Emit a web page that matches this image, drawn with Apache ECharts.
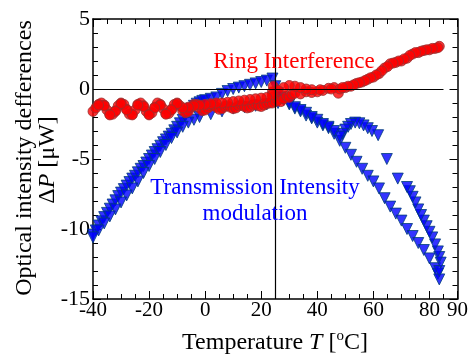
<!DOCTYPE html>
<html>
<head>
<meta charset="utf-8">
<script src="https://cdn.jsdelivr.net/npm/echarts@6/dist/echarts.min.js"></script>
<style>
  html, body { margin: 0; padding: 0; background: #fff; }
  #chart { width: 471px; height: 354px; }
</style>
</head>
<body>
<div id="chart"></div>
<script>
// axis ranges
const tempRange = [-40, 90]
const powerRange = [-15, 5]

// Ring Interference, heating branch
const ringHeatT = [-40, -39, -38, -37, -36, -35, -34, -33, -32, -31, -30, -29, -28, -27, -26, -25, -24, -23, -22, -21,
  -20, -19, -18, -17, -16, -15, -14, -13, -12, -11, -10, -9, -8, -7, -6, -5, -4, -3, -2, -1, 0,
  1, 2, 3, 4, 5, 6, 7, 8, 9, 10, 11, 12, 13, 14, 15, 16, 17, 18, 19, 20, 21, 22, 23, 24, 24, 24, 24.3,
  25, 26, 27, 28, 29, 30, 31, 32, 34, 36, 38, 40, 42, 44, 46, 47.5, 48, 50, 52, 54, 56, 58, 60, 62, 64, 66, 68,
  70, 72, 74, 76, 78, 80, 82, 83.5]
const ringHeatP = [-1.6, -1.35, -1.1, -1.0, -1.15, -1.5, -1.8, -1.8, -1.55, -1.2, -1.0, -1.1, -1.45, -1.8, -1.8, -1.5, -1.1, -1.0, -1.2, -1.6,
  -1.8, -1.7, -1.3, -1.0, -1.1, -1.4, -1.75, -1.75, -1.45, -1.1, -1.0, -1.2, -1.55, -1.7, -1.6, -1.3, -1.1, -1.1, -1.35, -1.55, -1.5,
  -1.35, -1.2, -1.15, -1.3, -1.45, -1.4, -1.25, -1.2, -1.3, -1.4, -1.35, -1.2, -1.15, -1.25, -1.35, -1.3, -1.15, -1.1, -1.2, -1.25, -1.15, -1.05, -1.0, -1.0, -0.6, -0.2, 0.2,
  -0.9, -0.8, -0.9, -0.7, -0.5, -0.6, -0.4, -0.3, -0.35, -0.2, -0.25, -0.2, -0.1, 0.05, 0.1, -0.3, 0.0, 0.1, 0.2, 0.4, 0.5, 0.7, 0.85, 1.1, 1.5, 1.8, 1.9,
  2.0, 2.2, 2.5, 2.6, 2.75, 2.8, 2.9, 3.05]

// Ring Interference, cooling branch
const ringCoolT = [83, 81, 79, 77, 75, 73, 71, 69, 67, 65, 63, 61, 59, 57, 55, 53, 51, 49, 45, 41,
  38, 36, 34, 32, 30, 28, 26, 24, 22, 20, 18, 16, 14, 12, 10, 8, 6, 4, 2, 0, -2, -4, -6, -8,
  -10, -12, -14, -16, -18, -20, -22, -24, -26, -28, -30, -32, -34, -36, -38]
const ringCoolP = [2.95, 2.9, 2.8, 2.7, 2.6, 2.4, 2.15, 2.0, 1.85, 1.6, 1.3, 1.0, 0.8, 0.6, 0.45, 0.3, 0.2, 0.1, 0.0, -0.05,
  -0.05, 0.0, 0.1, 0.2, 0.25, 0.1, -0.1, -0.4, -0.6, -0.65, -0.7, -0.75, -0.8, -0.85, -0.9, -0.95, -1.0, -1.0, -1.05, -1.1, -1.15, -1.2, -1.3, -1.35,
  -1.05, -1.5, -1.8, -1.15, -1.35, -1.85, -1.25, -1.15, -1.85, -1.5, -1.05, -1.6, -1.85, -1.2, -1.15]

// Transmission Intensity modulation, heating branch
const transHeatT = [-40, -39, -38, -37, -36, -35, -34, -33, -32, -31, -30, -29, -28, -27, -26, -25, -24, -23, -22, -21,
  -20, -19, -18, -17, -16, -15, -14, -13, -12, -11, -10, -9, -8, -7, -6, -5, -4, -3, -2, -1, 0,
  2, 4, 6, 8, 10, 12, 14, 16, 18, 20, 22, 24, 25, 26, 27, 28, 30, 32, 34, 36, 38, 40, 42, 44, 46, 48,
  50, 52, 54, 56, 58, 60, 62, 64, 66, 68, 70, 72, 74, 76, 78, 80, 82, 83, 83.5]
const transHeatP = [-10.4, -10.1, -9.75, -9.45, -9.15, -8.85, -8.55, -8.25, -7.95, -7.65, -7.4, -7.15, -6.9, -6.65, -6.4, -6.2, -5.95, -5.7, -5.5, -5.25,
  -5.0, -4.75, -4.5, -4.3, -4.05, -3.8, -3.6, -3.4, -3.2, -2.95, -2.7, -2.45, -2.2, -1.9, -1.65, -1.4, -1.2, -1.05, -0.95, -0.85, -0.8,
  -0.7, -0.6, -0.35, -0.15, 0.0, 0.1, 0.2, 0.3, 0.4, 0.5, 0.6, 0.75, 0.2, -0.3, -0.6, -0.8, -1.1, -1.4, -1.6, -1.9, -2.1, -2.4, -2.6, -2.8, -3.2, -3.7,
  -4.2, -4.7, -5.2, -5.7, -6.2, -6.6, -7.1, -7.8, -8.4, -8.9, -9.4, -10.0, -10.5, -11.0, -11.5, -12.1, -12.8, -13.2, -13.6]

// Transmission Intensity modulation, cooling branch
const transCoolT = [83.5, 84, 83.5, 83, 82, 81, 80, 79, 78, 77, 76, 75, 74, 73, 72, 68.7, 64.8, 61.7, 59.5, 58,
  56.5, 55, 53.5, 52, 51, 50, 49, 48, 46, 44, 42, 40, 38, 36, 34, 32, 30, 26, 22, 18, 14, 10, 6, 2,
  -2, -4, -6, -8, -10, -12, -14, -16, -18, -20, -22, -24, -26, -28, -30, -32, -34, -36, -38, -40]
const transCoolP = [-13.0, -12.4, -12.0, -11.6, -11.1, -10.6, -10.2, -9.8, -9.4, -9.0, -8.6, -8.1, -7.7, -7.3, -7.0, -6.4, -5.0, -3.3, -3.0, -2.8,
  -2.6, -2.45, -2.4, -2.5, -2.7, -2.9, -3.2, -3.4, -3.0, -2.7, -2.5, -2.2, -2.0, -1.7, -1.5, -1.3, -1.0, -1.0, -1.1, -1.2, -1.3, -1.4, -1.6, -1.8,
  -2.0, -2.2, -2.4, -2.7, -3.1, -3.5, -4.0, -4.5, -5.0, -5.5, -6.0, -6.6, -7.1, -7.6, -8.1, -8.6, -9.1, -9.6, -10.1, -10.6]

const zip = (xs, ys) => xs.map((x, i) => [x, ys[i]])

const serif = 'Liberation Serif'
const black = '#000'

const chart = echarts.init(document.getElementById('chart'))

// x axes: bottom/top, majors with labels and minors every 5
const xMajor = (pos, showLabel) => ({
  type: 'value', position: pos, min: tempRange[0], max: tempRange[1], interval: 20,
  axisLine: { show: true, onZero: false, lineStyle: { color: black, width: 1.5 } },
  axisTick: { show: true, inside: true, length: 8, lineStyle: { color: black, width: 1 } },
  axisLabel: { show: showLabel, color: black, fontFamily: serif, fontSize: 21, margin: 1, showMaxLabel: true, showMinLabel: true },
  splitLine: { show: false }
})
const xMinor = (pos) => ({
  type: 'value', position: pos, min: tempRange[0], max: tempRange[1], interval: 5,
  axisLine: { show: false, onZero: false },
  axisTick: { show: true, inside: true, length: 5, lineStyle: { color: black, width: 1 } },
  axisLabel: { show: false },
  splitLine: { show: false }
})
const yAxis = (pos, showLabel) => ({
  type: 'value', position: pos, min: powerRange[0], max: powerRange[1], interval: 5,
  axisLine: { show: true, onZero: false, lineStyle: { color: black, width: 1.5 } },
  axisTick: { show: true, inside: true, length: 8, lineStyle: { color: black, width: 1 } },
  minorTick: { show: true, splitNumber: 5, length: 5, lineStyle: { color: black, width: 1 } },
  axisLabel: { show: showLabel, color: black, fontFamily: serif, fontSize: 22, margin: 3 },
  splitLine: { show: false }
})

const option = {
  animation: false,
  backgroundColor: '#fff',
  grid: { left: 93, right: 11, top: 19, bottom: 55 },
  xAxis: [xMajor('bottom', true), xMinor('bottom'), xMajor('top', false), xMinor('top')],
  yAxis: [yAxis('left', true), yAxis('right', false)],
  series: [
    {
      name: 'Transmission heat', type: 'scatter', z: 2,
      symbol: 'triangle', symbolRotate: 180, symbolSize: 11,
      itemStyle: { color: '#0000ff', borderColor: '#003d7a', borderWidth: 1 },
      data: zip(transHeatT, transHeatP),
      markLine: {
        silent: true, symbol: 'none', label: { show: false },
        lineStyle: { color: black, width: 1.2, type: 'solid' },
        data: [
          [{ coord: [-40, 0] }, { coord: [85, 0] }],
          [{ coord: [25, powerRange[0]] }, { coord: [25, powerRange[1]] }]
        ]
      }
    },
    {
      name: 'Transmission cool', type: 'scatter', z: 2,
      symbol: 'triangle', symbolRotate: 180, symbolSize: 11,
      itemStyle: { color: '#0000ff', borderColor: '#003d7a', borderWidth: 1 },
      data: zip(transCoolT, transCoolP)
    },
    {
      name: 'Ring heat', type: 'scatter', z: 3,
      symbol: 'circle', symbolSize: 10,
      itemStyle: { color: '#ff0000', borderColor: '#993030', borderWidth: 1 },
      data: zip(ringHeatT, ringHeatP)
    },
    {
      name: 'Ring cool', type: 'scatter', z: 3,
      symbol: 'circle', symbolSize: 10,
      itemStyle: { color: '#ff0000', borderColor: '#993030', borderWidth: 1 },
      data: zip(ringCoolT, ringCoolP)
    }
  ],
  graphic: [
    {
      type: 'text', x: 294, y: 62, z: 10,
      style: { text: 'Ring Interference', fill: '#ff0000', font: '23px "Liberation Serif"', align: 'center', verticalAlign: 'middle' }
    },
    {
      type: 'text', x: 255, y: 201, z: 10,
      style: { text: 'Transmission Intensity\nmodulation', fill: '#0000ff', font: '23px "Liberation Serif"', align: 'center', verticalAlign: 'middle', lineHeight: 26 }
    },
    {
      type: 'text', x: 25, y: 158, rotation: Math.PI / 2,
      style: { text: 'Optical intensity defferences', fill: black, font: '24px "Liberation Serif"', align: 'center', verticalAlign: 'middle' }
    },
    {
      type: 'text', x: 48, y: 160, rotation: Math.PI / 2,
      style: {
        text: '{n|Δ}{i|P}{n| [μW]}', align: 'center', verticalAlign: 'middle',
        rich: {
          n: { fontFamily: serif, fontSize: 24, fill: black, color: black },
          i: { fontFamily: serif, fontSize: 24, fontStyle: 'italic', fill: black, color: black }
        }
      }
    },
    {
      type: 'text', x: 275, y: 342,
      style: {
        text: '{n|Temperature }{i|T}{n| [}{s|o}{n|C]}', align: 'center', verticalAlign: 'middle',
        rich: {
          n: { fontFamily: serif, fontSize: 24, fill: black, color: black, lineHeight: 26, verticalAlign: 'bottom' },
          i: { fontFamily: serif, fontSize: 24, fontStyle: 'italic', fill: black, color: black, lineHeight: 26, verticalAlign: 'bottom' },
          s: { fontFamily: serif, fontSize: 15, fill: black, color: black, lineHeight: 26, verticalAlign: 'top' }
        }
      }
    }
  ]
}

chart.setOption(option)
</script>
</body>
</html>
